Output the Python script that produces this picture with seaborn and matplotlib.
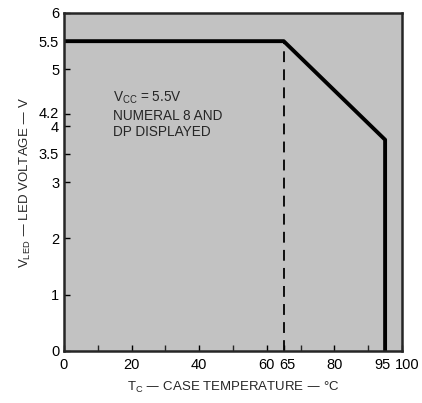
import matplotlib
matplotlib.use("Agg")
import matplotlib.pyplot as plt
import matplotlib.transforms as mtrans
import seaborn as sns
import pandas as pd

# data
temp_c = [0, 65, 95, 95]
v_led = [5.5, 5.5, 3.75, 0]
dash_x = [65, 65]
dash_y = [0, 5.5]
x_ticks = [0, 20, 40, 60, 65, 80, 95, 100]
x_minor = [10, 30, 50, 70, 90]
y_ticks = [0, 1, 2, 3, 3.5, 4, 4.2, 5, 5.5, 6]
y_labels = ["0", "1", "2", "3", "3.5", "4", "4.2", "5", "5.5", "6"]

sns.set_style("ticks")
plt.rcParams['font.family'] = ['Liberation Sans', 'DejaVu Sans']

fig = plt.figure(figsize=(4.22, 4.03), dpi=100)
ax = fig.add_axes([64/422, (403-351)/403, (402-64)/422, (351-13)/403])
ax.set_facecolor('#c2c2c2')

df = pd.DataFrame({"T": temp_c, "V": v_led})
sns.lineplot(data=df, x="T", y="V", sort=False, estimator=None,
             color="black", linewidth=2.8, ax=ax)
ax.plot(dash_x, dash_y, color="black", linewidth=1.3, linestyle=(0, (6, 4)))

ax.set_xlim(0, 100)
ax.set_ylim(0, 6)
ax.set_xticks(x_ticks)
ax.set_xticklabels([str(t) for t in x_ticks])
ax.set_xticks(x_minor, minor=True)
ax.set_yticks(y_ticks)
ax.set_yticklabels(y_labels)
ax.tick_params(direction='in', length=4, width=1, labelsize=10.5, colors='black')
ax.tick_params(axis='x', pad=5)
ax.tick_params(which='minor', direction='in', length=4, width=1)
for s in ax.spines.values():
    s.set_linewidth(1.8)
    s.set_visible(True)

# small label nudges like the original
offsets = {"65": 4, "95": -3, "100": 5}
for lab in ax.get_xticklabels():
    dx = offsets.get(lab.get_text(), 0)
    if dx:
        lab.set_transform(lab.get_transform() + mtrans.ScaledTranslation(dx/100, 0, fig.dpi_scale_trans))
yoffsets = {"4.2": 2, "4": -1}
for lab in ax.get_yticklabels():
    dy = yoffsets.get(lab.get_text(), 0)
    if dy:
        lab.set_transform(lab.get_transform() + mtrans.ScaledTranslation(0, dy/100, fig.dpi_scale_trans))

ax.set_xlabel(r"T$_\mathregular{C}$ — CASE TEMPERATURE — °C", fontsize=9.5, labelpad=6)
ax.set_ylabel(r"V$_\mathregular{LED}$ — LED VOLTAGE — V", fontsize=9.5, labelpad=4)

ax.text(14.5, 4.2, "V$_\\mathregular{CC}$ = 5.5V\nNUMERAL 8 AND\nDP DISPLAYED",
        fontsize=9.8, va='center', ha='left', linespacing=1.2)

fig.savefig("out.png", dpi=100)
